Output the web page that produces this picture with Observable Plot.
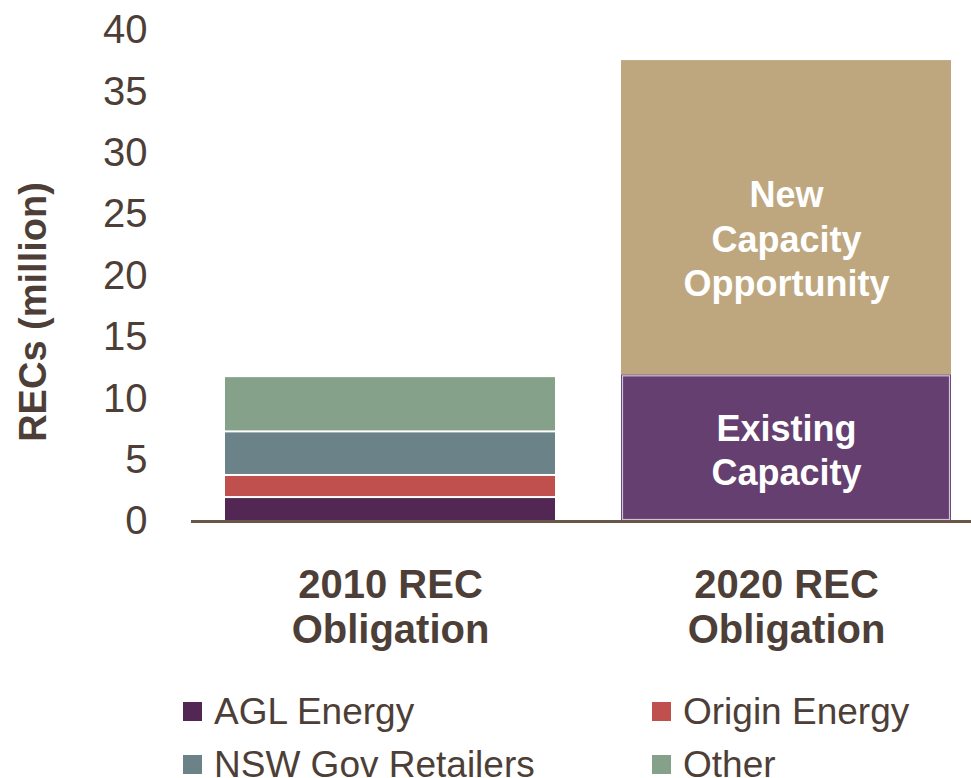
<!DOCTYPE html>
<html>
<head>
<meta charset="utf-8">
<script src="https://cdn.jsdelivr.net/npm/d3@7"></script>
<script src="https://cdn.jsdelivr.net/npm/@observablehq/plot@0.6"></script>
<style>
  body { margin: 0; background: #fff; font-family: "Liberation Sans", Arial, sans-serif; }
  #chart svg { display: block; }
  .legend { display: grid; grid-template-columns: 469px 300px; padding-left: 183px; margin-top: 25px; }
  .item { display: flex; align-items: center; height: 53px; font-size: 37px; color: #4d3f37; white-space: nowrap; }
  .sw { width: 19px; height: 19px; margin-right: 12px; flex: none; }
</style>
</head>
<body>
<div id="chart"></div>
<div class="legend" id="legend"></div>
<script>
// ---- data ----
const categories = ["2010", "2020"];
const categoryLabels = ["2010 REC\nObligation", "2020 REC\nObligation"];
const companies2010 = ["AGL Energy", "Origin Energy", "NSW Gov Retailers", "Other"];
const values2010 = [1.95, 1.8, 3.55, 4.5];
const segments2020 = ["Existing Capacity", "New Capacity Opportunity"];
const segmentLabels2020 = ["Existing\nCapacity", "New\nCapacity\nOpportunity"];
const values2020 = [11.95, 25.6];
const yTicks = [0, 5, 10, 15, 20, 25, 30, 35, 40];
const yLabel = "RECs (million)";

// ---- styles ----
const seriesColors = ["#522753", "#c0504d", "#6c8289", "#86a18a", "#643f6f", "#bea77e"];
const textColor = "#4d3f37";

const rows2010 = companies2010.map((c, i) => ({cat: categories[0], series: c, value: values2010[i]}));
const rows2020 = segments2020.map((s, i) => ({cat: categories[1], series: s, value: values2020[i], label: segmentLabels2020[i]}));
const labelOf = Object.fromEntries(categories.map((c, i) => [c, categoryLabels[i]]));

const chart = Plot.plot({
  width: 971,
  height: 660,
  marginTop: 30,
  marginBottom: 139,
  marginLeft: 191,
  marginRight: 0,
  style: { fontFamily: "'Liberation Sans', Arial, sans-serif", color: textColor, background: "#fff" },
  x: { type: "band", domain: categories, range: [191.5, 983.5], paddingInner: 0.1667, paddingOuter: 0.0833 },
  y: { domain: [0, 40] },
  color: { domain: [...companies2010, ...segments2020], range: seriesColors },
  marks: [
    Plot.barY(rows2010, {x: "cat", y: "value", fill: "series", insetTop: 1, insetBottom: 1}),
    Plot.barY(rows2020, {x: "cat", y: "value", fill: "series"}),
    Plot.barY(rows2020, {x: "cat", y: "value", fill: "series", stroke: d => d.series === segments2020[0] ? "#cfc3d8" : "none", strokeWidth: 1.2, inset: 1.5}),
    Plot.text(rows2020, Plot.stackY({x: "cat", y: "value", text: d => d.series === segments2020[1] ? d.label : "", fill: "white", fontSize: 36, fontWeight: "bold", lineHeight: 1.236, dy: 20})),
    Plot.text(rows2020, Plot.stackY({x: "cat", y: "value", text: d => d.series === segments2020[0] ? d.label : "", fill: "white", fontSize: 36, fontWeight: "bold", lineHeight: 1.2, dy: 1})),
    Plot.ruleY([0], {stroke: "#6b5546", strokeWidth: 3}),
    Plot.axisY({ticks: yTicks, tickSize: 0, tickPadding: 44, fontSize: 40, label: null, fill: textColor}),
    Plot.axisX({tickSize: 0, tickPadding: 45, fontSize: 40, fontWeight: "bold", lineHeight: 1.125, label: null, fill: textColor, tickFormat: d => labelOf[d]}),
    Plot.text([yLabel], {frameAnchor: "left", textAnchor: "middle", dx: -158, dy: 36, rotate: -90, fontSize: 38, fontWeight: "bold", fill: textColor})
  ]
});
document.getElementById("chart").appendChild(chart);

const legend = document.getElementById("legend");
companies2010.forEach((c, i) => {
  const item = document.createElement("div");
  item.className = "item";
  const sw = document.createElement("span");
  sw.className = "sw";
  sw.style.background = seriesColors[i];
  item.appendChild(sw);
  item.appendChild(document.createTextNode(c));
  legend.appendChild(item);
});
</script>
</body>
</html>
